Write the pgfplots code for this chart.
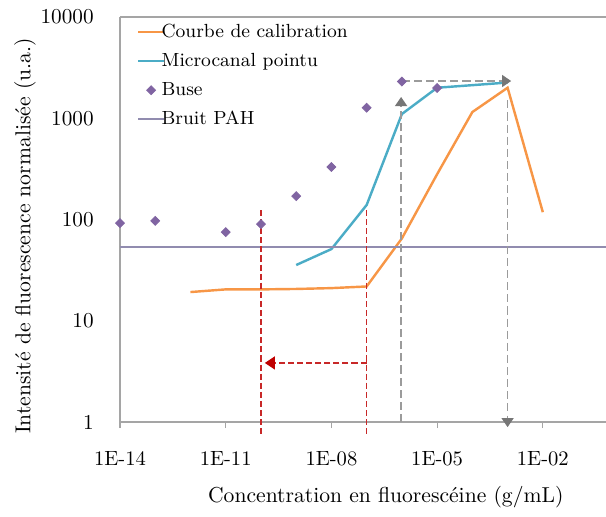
\documentclass[border=0pt]{standalone}
\usepackage{pgfplots}
\pgfplotsset{compat=1.18}
\usetikzlibrary{arrows.meta}
\definecolor{corange}{RGB}{247,150,70}
\definecolor{cteal}{RGB}{75,172,198}
\definecolor{cpurple}{RGB}{128,100,162}
\definecolor{cbruit}{RGB}{145,140,175}
\definecolor{caxis}{RGB}{165,165,165}
\definecolor{cred}{RGB}{192,0,0}
\definecolor{credline}{RGB}{200,40,40}
\definecolor{cgraydash}{RGB}{155,155,155}
\definecolor{cgrayhead}{RGB}{118,118,118}
\pgfplotsset{
  lineleg/.style={legend image code/.code={\draw[##1] (0cm,0cm) -- (0.45cm,0cm);}},
  markleg/.style={legend image code/.code={\draw[##1] plot coordinates {(0.225cm,0cm)};}},
}
\begin{document}
\begin{tikzpicture}
\begin{axis}[
  scale only axis, width=240.57pt, height=200.5pt,
  xmode=log, ymode=log,
  xmin=1e-14, xmax=0.62, ymin=1, ymax=10000,
  axis x line*=bottom, axis y line*=left,
  axis line style={caxis, line width=0.6pt},
  xtick={1e-14,1e-11,1e-8,1e-5,1e-2},
  xticklabels={1E-14,1E-11,1E-08,1E-05,1E-02},
  ytick={1,10,100,1000,10000},
  yticklabels={1,10,100,1000,10000},
  xminorticks=false, yminorticks=false,
  tick align=outside,
  xtick style={caxis, line width=0.6pt},
  major tick length=3pt,
  ytick style={draw=none},
  xticklabel style={yshift=-8pt, font=\fontsize{10.2}{12}\selectfont},
  yticklabel style={xshift=-6.5pt, font=\fontsize{10.5}{12}\selectfont},
  clip=false,
  xlabel={Concentration en fluorescéine (g/mL)},
  ylabel={Intensité de fluorescence normalisée (u.a.)},
  every axis x label/.style={at={(axis description cs:0.547,0)}, anchor=center, yshift=-37pt, font=\fontsize{10.7}{12}\selectfont},
  every axis y label/.style={at={(axis description cs:0,0.459)}, anchor=center, rotate=90, yshift=47pt, font=\fontsize{10.7}{12}\selectfont},
  legend cell align=left,
  legend style={draw=none, fill=none, inner sep=0pt, at={(rel axis cs:0,1)}, anchor=north west,
    xshift=8.2pt, yshift=-1.75pt, row sep=3.4pt, column sep=-2pt, font=\fontsize{9.4}{11}\selectfont,
    nodes={inner xsep=0.2pt, inner ysep=1pt, text height=7pt, text depth=2pt, anchor=west}},
]
\addplot[corange, line width=1.2pt, lineleg]
  coordinates {(1e-12,19.2)(1e-11,20.4)(1e-10,20.4)(1e-9,20.6)(1e-8,21)(1e-7,21.8)(1e-6,65)(1e-5,280)(1e-4,1150)(1e-3,2000)(1e-2,118)};
\addlegendentry{Courbe de calibration}
\addplot[cteal, line width=1.2pt, lineleg]
  coordinates {(1e-9,35.5)(1e-8,51)(1e-7,139)(1e-6,1100)(1e-5,2000)(1e-4,2120)(1e-3,2250)};
\addlegendentry{Microcanal pointu}
\addplot[only marks, mark=square*, mark options={rotate=45}, mark size=1.55pt, color=cpurple, markleg]
  coordinates {(1e-14,92)(1e-13,97)(1e-11,75)(1e-10,90)(1e-9,170)(1e-8,330)(1e-7,1270)(1e-6,2300)(1e-5,1990)};
\addlegendentry{Buse}
\addplot[cbruit, line width=0.8pt, lineleg]
  coordinates {(1e-14,53.5)(0.62,53.5)};
\addlegendentry{Bruit PAH}
% top border
\draw[caxis, line width=0.6pt] (rel axis cs:0,1) -- (rel axis cs:1,1);
% red annotations
\draw[credline, line width=0.6pt, dash pattern=on 3pt off 1.5pt] (axis cs:1e-10,124) -- (axis cs:1e-10,0.72);
\draw[credline, line width=0.6pt, dash pattern=on 3pt off 1.5pt] (axis cs:1e-7,124) -- (axis cs:1e-7,0.72);
\draw[credline, line width=0.6pt, dash pattern=on 3pt off 1.5pt, -{Triangle[length=5pt,width=6.5pt,fill=cred,color=cred]}] (axis cs:1e-7,3.83) -- (axis cs:1.29e-10,3.83);
% gray annotations
\draw[cgraydash, line width=0.6pt, dash pattern=on 4pt off 2pt, -{Triangle[length=4.5pt,width=6pt,fill=cgrayhead,color=cgrayhead]}] (axis cs:0.95e-6,1) -- (axis cs:0.95e-6,1620);
\draw[cgraydash, line width=0.6pt, dash pattern=on 4pt off 2pt, -{Triangle[length=4.5pt,width=6pt,fill=cgrayhead,color=cgrayhead]}] (axis cs:1e-6,2330) -- (axis cs:1.26e-3,2330);
\draw[cgraydash, line width=0.6pt, dash pattern=on 4pt off 2pt, -{Triangle[length=4.5pt,width=6pt,fill=cgrayhead,color=cgrayhead]}] (axis cs:1e-3,1500) -- (axis cs:1e-3,0.89);
\end{axis}
\pgfresetboundingbox
\path[use as bounding box] (-59.4pt,-47.0pt) rectangle (240.57pt,208.9pt);
\end{tikzpicture}
\end{document}
